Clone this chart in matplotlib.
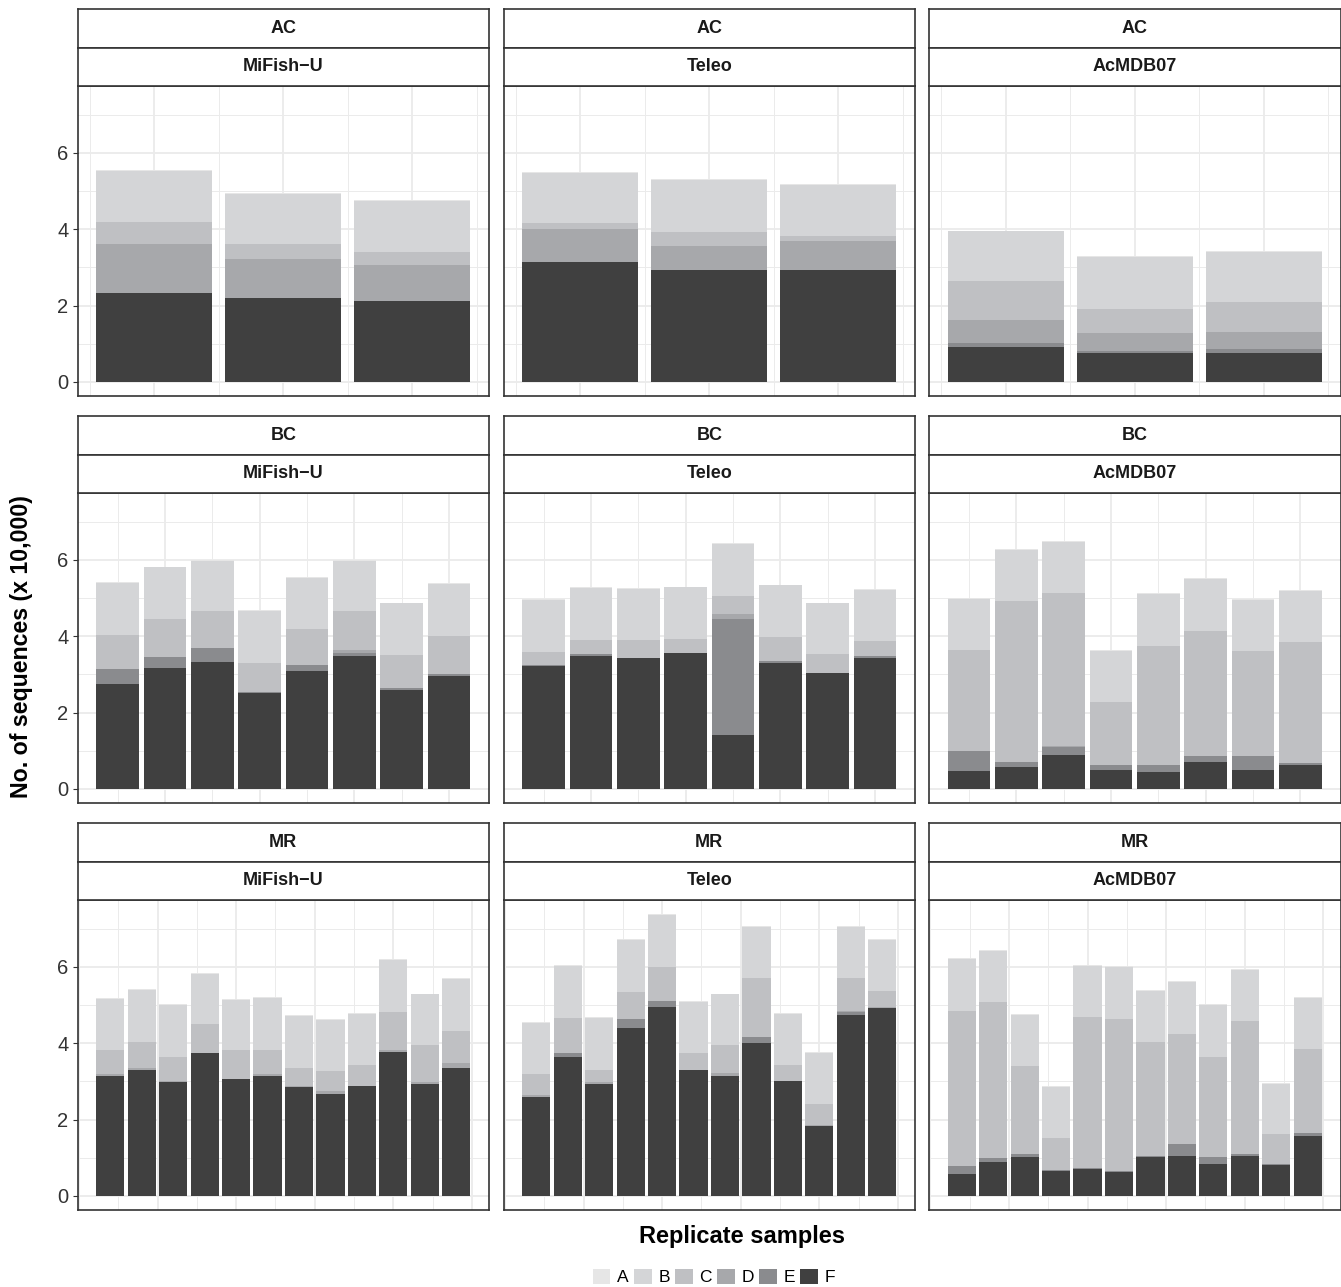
import numpy as np
import matplotlib
matplotlib.use("Agg")
import matplotlib.pyplot as plt
from matplotlib.patches import Patch

plt.rcParams['font.family'] = ['Liberation Sans', 'DejaVu Sans']

# ---------------- data (x 10,000 sequences) ----------------
categories = ["A", "B", "C", "D", "E", "F"]
sites = ["AC", "BC", "MR"]
primers = ["MiFish\u2212U", "Teleo", "AcMDB07"]

# AC
AC_MiFish_A = [0.02, 0.02, 0.02]
AC_MiFish_B = [1.33, 1.32, 1.33]
AC_MiFish_C = [0.60, 0.39, 0.36]
AC_MiFish_D = [1.26, 1.01, 0.92]
AC_MiFish_E = [0.02, 0.01, 0.01]
AC_MiFish_F = [2.32, 2.19, 2.12]

AC_Teleo_A = [0.02, 0.02, 0.02]
AC_Teleo_B = [1.33, 1.36, 1.33]
AC_Teleo_C = [0.14, 0.36, 0.15]
AC_Teleo_D = [0.86, 0.63, 0.74]
AC_Teleo_E = [0.00, 0.02, 0.00]
AC_Teleo_F = [3.15, 2.92, 2.94]

AC_AcMDB_A = [0.02, 0.02, 0.02]
AC_AcMDB_B = [1.31, 1.36, 1.33]
AC_AcMDB_C = [1.02, 0.65, 0.78]
AC_AcMDB_D = [0.60, 0.47, 0.45]
AC_AcMDB_E = [0.10, 0.05, 0.08]
AC_AcMDB_F = [0.91, 0.75, 0.77]

# BC
BC_MiFish_A = [0.02] * 8
BC_MiFish_B = [1.36, 1.35, 1.32, 1.36, 1.34, 1.32, 1.36, 1.35]
BC_MiFish_C = [0.88, 0.99, 0.97, 0.77, 0.94, 1.03, 0.87, 1.00]
BC_MiFish_D = [0.00, 0.01, 0.00, 0.00, 0.00, 0.07, 0.00, 0.00]
BC_MiFish_E = [0.40, 0.28, 0.36, 0.01, 0.16, 0.07, 0.04, 0.05]
BC_MiFish_F = [2.75, 3.17, 3.33, 2.52, 3.09, 3.49, 2.59, 2.96]

BC_Teleo_A = [0.02] * 8
BC_Teleo_B = [1.36, 1.36, 1.33, 1.35, 1.36, 1.35, 1.32, 1.33]
BC_Teleo_C = [0.34, 0.37, 0.46, 0.37, 0.48, 0.63, 0.50, 0.40]
BC_Teleo_D = [0.00, 0.00, 0.00, 0.00, 0.13, 0.00, 0.00, 0.00]
BC_Teleo_E = [0.03, 0.06, 0.00, 0.00, 3.04, 0.04, 0.00, 0.05]
BC_Teleo_F = [3.22, 3.47, 3.44, 3.56, 1.41, 3.31, 3.04, 3.43]

BC_AcMDB_A = [0.02] * 8
BC_AcMDB_B = [1.33, 1.34, 1.33, 1.33, 1.35, 1.36, 1.33, 1.34]
BC_AcMDB_C = [2.66, 4.21, 4.01, 1.65, 3.12, 3.28, 2.76, 3.17]
BC_AcMDB_D = [0.00, 0.00, 0.02, 0.00, 0.00, 0.00, 0.00, 0.00]
BC_AcMDB_E = [0.51, 0.13, 0.22, 0.13, 0.18, 0.15, 0.36, 0.05]
BC_AcMDB_F = [0.47, 0.58, 0.89, 0.50, 0.45, 0.71, 0.50, 0.63]

# MR
MR_MiFish_A = [0.02] * 12
MR_MiFish_B = [1.33, 1.35, 1.36, 1.32, 1.33, 1.36, 1.35, 1.34, 1.33, 1.36, 1.34, 1.35]
MR_MiFish_C = [0.65, 0.68, 0.63, 0.74, 0.74, 0.65, 0.49, 0.52, 0.55, 1.01, 0.97, 0.86]
MR_MiFish_D = [0.05, 0.05, 0.05, 0.02, 0.02, 0.03, 0.03, 0.06, 0.02, 0.03, 0.05, 0.11]
MR_MiFish_E = [0.00] * 12
MR_MiFish_F = [3.13, 3.31, 2.97, 3.73, 3.05, 3.15, 2.84, 2.68, 2.87, 3.78, 2.92, 3.36]

MR_Teleo_A = [0.02] * 12
MR_Teleo_B = [1.36, 1.35, 1.36, 1.35, 1.36, 1.33, 1.34, 1.34, 1.33, 1.35, 1.33, 1.33]
MR_Teleo_C = [0.55, 0.94, 0.34, 0.71, 0.89, 0.44, 0.73, 1.55, 0.42, 0.55, 0.86, 0.41]
MR_Teleo_D = [0.03, 0.00, 0.05, 0.00, 0.00, 0.00, 0.06, 0.00, 0.02, 0.03, 0.04, 0.03]
MR_Teleo_E = [0.00, 0.08, 0.00, 0.23, 0.15, 0.00, 0.00, 0.14, 0.00, 0.00, 0.06, 0.00]
MR_Teleo_F = [2.60, 3.65, 2.92, 4.41, 4.96, 3.31, 3.15, 4.01, 3.00, 1.82, 4.75, 4.93]

MR_AcMDB_A = [0.02] * 12
MR_AcMDB_B = [1.36, 1.33, 1.33, 1.34, 1.33, 1.35, 1.32, 1.36, 1.36, 1.33, 1.32, 1.33]
MR_AcMDB_C = [4.07, 4.11, 2.32, 0.84, 3.97, 3.99, 3.00, 2.90, 2.64, 3.48, 0.78, 2.22]
MR_AcMDB_D = [0.00] * 12
MR_AcMDB_E = [0.21, 0.10, 0.08, 0.02, 0.02, 0.03, 0.03, 0.31, 0.18, 0.07, 0.03, 0.08]
MR_AcMDB_F = [0.57, 0.88, 1.01, 0.65, 0.70, 0.62, 1.01, 1.04, 0.83, 1.04, 0.80, 1.56]

colors = {"A": "#e6e6e6", "B": "#d4d5d7", "C": "#bfc0c3",
          "D": "#a7a8ab", "E": "#8a8b8e", "F": "#404040"}

g = globals()
panel_data = {}
for s in sites:
    for pk, pname in zip(["MiFish", "Teleo", "AcMDB"], primers):
        panel_data[(s, pname)] = {c: g[f"{s}_{pk}_{c}"] for c in categories}

# ---------------- layout ----------------
W, H = 1341, 1287
fig = plt.figure(figsize=(W / 100, H / 100), dpi=100)
fig.patch.set_facecolor("white")


def rect(x0, y0, w, h):
    return [x0 / W, 1 - (y0 + h) / H, w / W, h / H]


col_x = [77.5, 503.5, 929.0]
pw = 411.5
row_top = [86.0, 493.0, 900.0]
ph = 310.0
sh = 38.5
border = "#333333"

ymax = max(sum(v[i] for v in d.values())
           for d in panel_data.values() for i in range(len(d["F"])))

xticks_major = {3: [1, 2, 3], 8: [2, 4, 6, 8], 12: [0, 2.5, 5, 7.5, 10, 12.5]}
xticks_minor = {3: [0.5, 1.5, 2.5, 3.5], 8: [1, 3, 5, 7],
                12: [1.25, 3.75, 6.25, 8.75, 11.25]}

for r, s in enumerate(sites):
    for c, pname in enumerate(primers):
        d = panel_data[(s, pname)]
        n = len(d["F"])
        x = np.arange(1, n + 1)
        ax = fig.add_axes(rect(col_x[c], row_top[r], pw, ph))
        bottom = np.zeros(n)
        for cat in ["F", "E", "D", "C", "B", "A"]:
            vals = np.array(d[cat])
            ax.bar(x, vals, 0.9, bottom=bottom, color=colors[cat],
                   linewidth=0, zorder=2)
            bottom += vals
        span = n - 0.1
        ax.set_xlim(0.55 - 0.05 * span, n + 0.45 + 0.05 * span)
        ax.set_ylim(-0.05 * ymax, 1.05 * ymax)
        ax.set_yticks([0, 2, 4, 6])
        ax.set_yticks([1, 3, 5, 7], minor=True)
        ax.set_xticks(xticks_major[n])
        ax.set_xticks(xticks_minor[n], minor=True)
        ax.grid(which="major", color="#ebebeb", linewidth=1.3, zorder=0)
        ax.grid(which="minor", color="#ebebeb", linewidth=0.7, zorder=0)
        ax.set_axisbelow(True)
        ax.tick_params(axis="x", which="both", length=0, labelbottom=False)
        ax.tick_params(axis="y", which="minor", length=0)
        if c == 0:
            ax.tick_params(axis="y", which="major", length=3.5, width=0.8,
                           color=border, labelsize=14.5, labelcolor="#333333",
                           pad=3)
        else:
            ax.tick_params(axis="y", which="major", length=0, labelleft=False)
        for sp in ax.spines.values():
            sp.set_color(border)
            sp.set_linewidth(1.2)

        # strips
        for k, label in enumerate([s, pname]):
            sax = fig.add_axes(rect(col_x[c], row_top[r] - sh * (2 - k), pw, sh))
            sax.set_facecolor("white")
            sax.set_xticks([])
            sax.set_yticks([])
            for sp in sax.spines.values():
                sp.set_color(border)
                sp.set_linewidth(1.2)
            sax.text(0.5, 0.5, label, ha="center", va="center",
                     fontsize=13, fontweight="bold", color="#1a1a1a",
                     transform=sax.transAxes)

fig.text(742 / W, 1 - 1237 / H, "Replicate samples", ha="center", va="center",
         fontsize=17, fontweight="bold")
fig.text(22 / W, 1 - 647 / H, "No. of sequences (x 10,000)", ha="center",
         va="center", rotation=90, fontsize=16.7, fontweight="bold")

handles = [Patch(facecolor=colors[cat], edgecolor="none", label=cat)
           for cat in categories]
fig.legend(handles=handles, loc="center", ncol=6,
           bbox_to_anchor=(714 / W, 1 - 1277 / H), frameon=False,
           fontsize=12.5, handlelength=1.0, handleheight=1.0,
           handletextpad=0.4, columnspacing=0.3, borderaxespad=0)

fig.savefig("out.png", dpi=100, facecolor="white")
